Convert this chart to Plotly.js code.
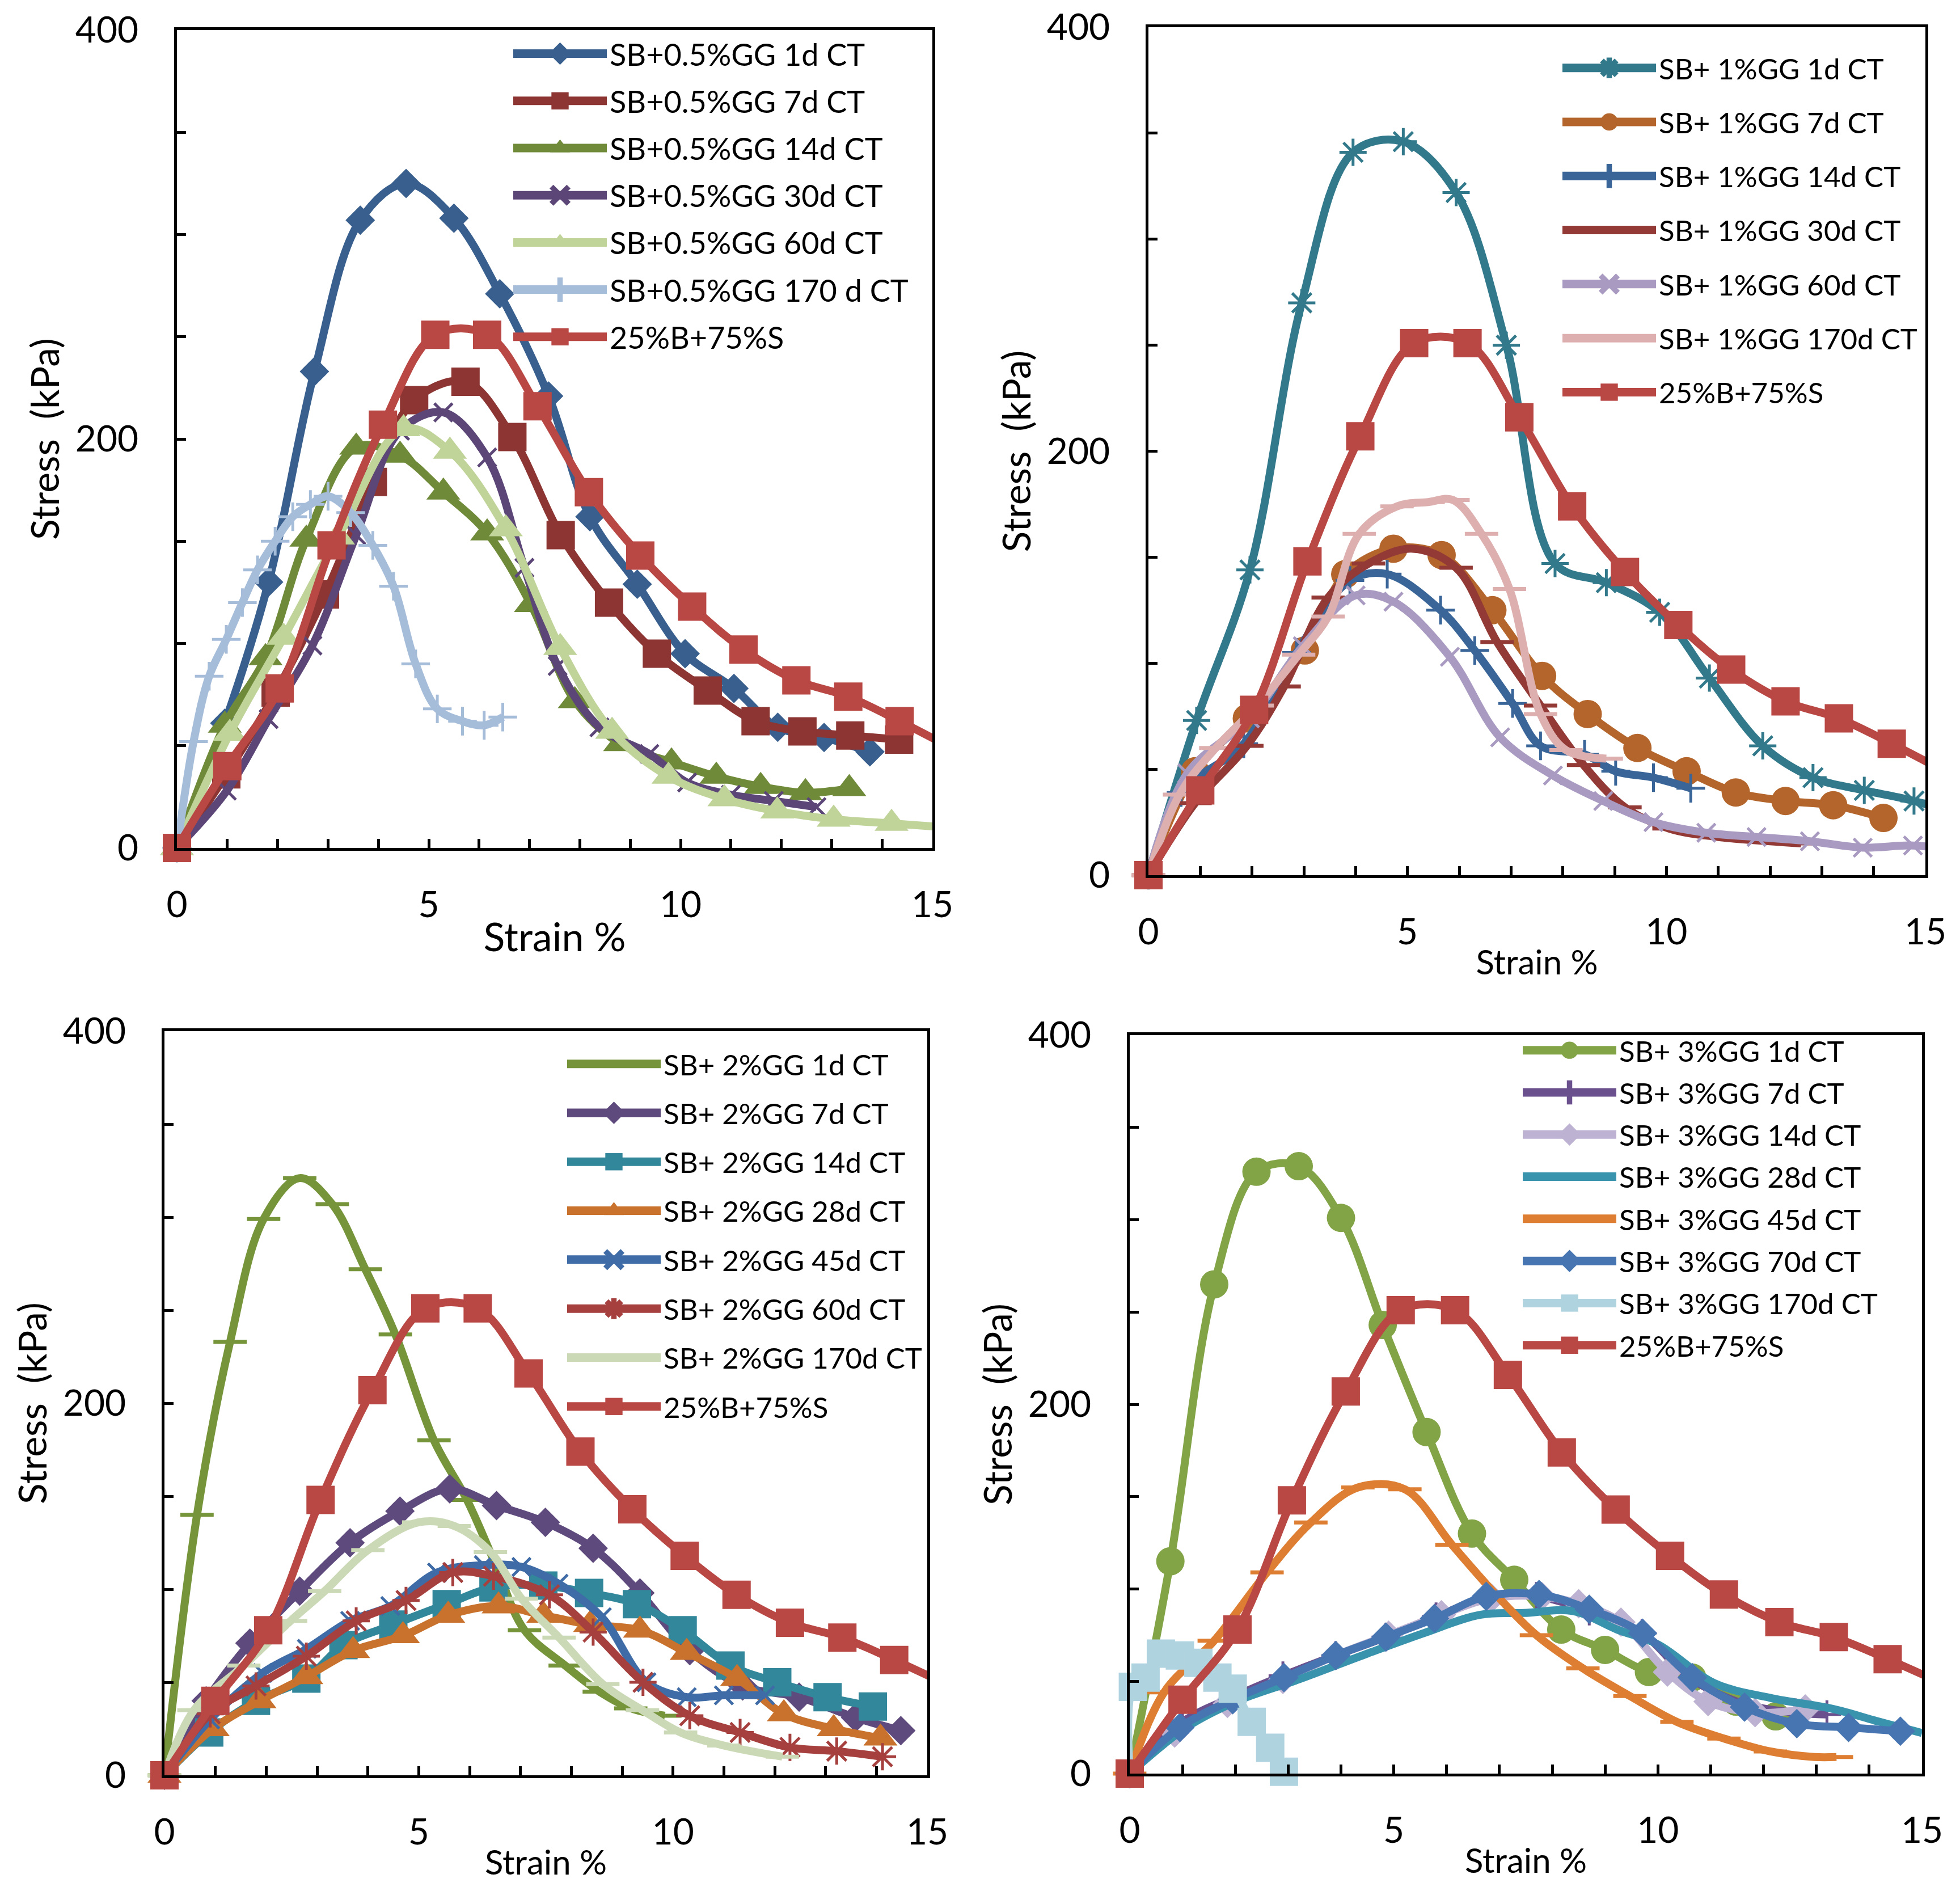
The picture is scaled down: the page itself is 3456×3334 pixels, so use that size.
<!DOCTYPE html>
<html>
<head>
<meta charset="utf-8">
<script src="https://cdn.plot.ly/plotly-3.0.1.min.js"></script>
<style>html,body{margin:0;padding:0;background:#fff}#chart{width:3456px;height:3334px}</style>
</head>
<body>
<div id="chart"></div>
<script>
// ---------- tick labels ----------
const X_TICKS = [0,1,2,3,4,5,6,7,8,9,10,11,12,13,14,15];
const X_LABELS = ['0','','','','','5','','','','','10','','','','','15'];
const Y_TICKS = [0,50,100,150,200,250,300,350,400];
const Y_LABELS = ['0','','','','200','','','','400'];

// ---------- control mix (shown in all four panels) ----------
const CTRL_NAME = '25%B+75%S';
const CTRL_X = [0,1.0,2.04,3.07,4.09,5.13,6.16,7.16,8.18,9.2,10.23,11.25,12.3,13.33,14.35,15.37];
const CTRL_Y = [0,40,78,148,207,251,251,216,174,143,118,97,82,74,62,49];

// ---------- panel 1 : SB+0.5%GG ----------
const P1_NAMES = ['SB+0.5%GG 1d CT','SB+0.5%GG 7d CT','SB+0.5%GG 14d CT','SB+0.5%GG 30d CT','SB+0.5%GG 60d CT','SB+0.5%GG 170 d CT'];
const P1_1D_X = [0,0.95,1.82,2.73,3.64,4.55,5.5,6.41,7.38,8.2,9.14,10.09,11.06,11.93,12.85,13.76];
const P1_1D_Y = [0,61,130,233,307,325,308,271,221,162,129,95,78,59,54,47];
const P1_7D_X = [0,0.98,1.96,2.94,3.89,4.71,5.73,6.66,7.62,8.58,9.53,10.54,11.49,12.42,13.37,14.34];
const P1_7D_Y = [0,36,76,124,179,219,228,201,153,120,95,77,62,57,55,53];
const P1_14D_X = [0,0.95,1.76,2.57,3.56,4.43,5.29,6.16,7.03,7.9,8.8,9.82,10.71,11.59,12.48,13.35];
const P1_14D_Y = [0,60,93,151,196,192,174,154,119,72,51,42,35,30,27,29];
const P1_30D_X = [0,0.99,1.82,2.69,3.56,4.43,5.29,6.16,6.9,7.56,8.39,9.38,10.13,11.0,11.85,12.7];
const P1_30D_Y = [0,28,63,99,153,204,213,191,137,89,59,46,32,26,23,20];
const P1_60D_X = [0,1.05,2.12,3.2,4.5,5.42,6.53,7.61,8.64,9.76,10.87,11.92,13.04,14.19,15.3];
const P1_60D_Y = [0,56,103,152,205,194,156,98,57,35,24,18,14,12,10];
const P1_170D_X = [0,0.33,0.64,0.98,1.3,1.6,1.95,2.3,2.65,3.0,3.45,3.89,4.3,4.74,5.17,5.67,6.1,6.47];
const P1_170D_Y = [0,52,84,102,120,136,150,162,168,172,164,148,128,90,68,62,60,64];

// ---------- panel 2 : SB+ 1%GG ----------
const P2_NAMES = ['SB+ 1%GG 1d CT','SB+ 1%GG 7d CT','SB+ 1%GG 14d CT','SB+ 1%GG 30d CT','SB+ 1%GG 60d CT','SB+ 1%GG 170d CT'];
const P2_1D_X = [0,0.93,1.96,2.96,3.95,4.92,5.94,6.91,7.85,8.84,9.87,10.83,11.86,12.83,13.82,14.78,15.75];
const P2_1D_Y = [0,73,144,270,341,346,322,250,147,138,124,93,61,46,40,35,28];
const P2_7D_X = [0,0.9,1.9,3.02,3.8,4.73,5.66,6.64,7.6,8.48,9.44,10.39,11.34,12.3,13.22,14.19];
const P2_7D_Y = [0,49,74,106,142,154,151,125,94,76,60,49,39,35,33,27];
const P2_14D_X = [0,0.63,1.84,2.86,3.89,4.61,5.64,6.3,7.03,7.57,8.42,9.02,9.75,10.47];
const P2_14D_Y = [0,39,62,105,139,142,125,106,81,61,57,49,46,41];
const P2_30D_X = [0,0.9,1.9,2.62,3.47,4.25,5.1,5.94,6.73,7.57,8.4,9.2,10.05,11.0,12.0,12.6];
const P2_30D_Y = [0,34,61,89,131,147,154,145,110,80,52,32,22,18,16,15];
const P2_60D_X = [0,0.75,1.96,2.98,4.0,4.73,5.82,6.79,7.81,8.78,9.75,10.77,11.74,12.77,13.79,14.76,15.5];
const P2_60D_Y = [0,48,74,108,132,129,103,65,47,35,25,20,18,16,13,14,12];
const P2_170D_X = [0,0.6,1.3,2.1,2.9,3.47,4.07,4.8,5.4,5.88,6.43,6.97,7.57,8.06,8.84];
const P2_170D_Y = [0,38,60,80,104,122,161,174,176,177,161,135,76,59,55];

// ---------- panel 3 : SB+ 2%GG ----------
const P3_NAMES = ['SB+ 2%GG 1d CT','SB+ 2%GG 7d CT','SB+ 2%GG 14d CT','SB+ 2%GG 28d CT','SB+ 2%GG 45d CT','SB+ 2%GG 60d CT','SB+ 2%GG 170d CT'];
const P3_1D_X = [0,0.64,1.29,1.95,2.66,3.3,3.95,4.54,5.3,5.95,6.5,7.08,7.88,8.55,9.17,9.84];
const P3_1D_Y = [0,140,233,299,321,307,272,237,180,148,114,78,59,45,36,32];
const P3_7D_X = [0,0.82,1.68,2.66,3.65,4.63,5.61,6.53,7.49,8.43,9.35,10.33,11.37,12.48,13.59,14.48];
const P3_7D_Y = [0,40,71,99,125,142,154,145,136,122,98,67,48,42,31,24];
const P3_14D_X = [0,0.88,1.8,2.79,3.52,4.5,5.55,6.47,7.45,8.35,9.29,10.19,11.13,12.05,13.04,13.93];
const P3_14D_Y = [0,23,40,52,70,81,92,101,102,98,92,78,59,50,42,37];
const P3_28D_X = [0,0.95,1.87,2.79,3.71,4.69,5.58,6.57,7.45,8.37,9.35,10.27,11.26,12.18,13.16,14.08];
const P3_28D_Y = [0,25,40,53,67,75,86,91,86,81,78,66,52,33,25,20];
const P3_45D_X = [0,0.9,1.93,2.8,3.65,4.44,5.36,6.28,7.02,7.75,8.6,9.48,10.27,11.0,11.81];
const P3_45D_Y = [0,30,55,68,83,91,109,113,112,103,85,50,42,43,43];
const P3_60D_X = [0,0.9,1.8,2.79,3.77,4.75,5.67,6.47,7.57,8.43,9.41,10.33,11.32,12.3,13.22,14.12];
const P3_60D_Y = [0,33,48,64,83,94,109,107,97,77,50,32,23,15,13,10];
const P3_170D_X = [0,0.58,1.56,2.48,3.15,4.0,5.0,5.7,6.41,7.02,7.76,8.62,9.4,10.15,11.0,12.15];
const P3_170D_Y = [0,35,59,83,99,121,136,134,120,95,74,49,35,23,16,10];

// ---------- panel 4 : SB+ 3%GG ----------
const P4_NAMES = ['SB+ 3%GG 1d CT','SB+ 3%GG 7d CT','SB+ 3%GG 14d CT','SB+ 3%GG 28d CT','SB+ 3%GG 45d CT','SB+ 3%GG 70d CT','SB+ 3%GG 170d CT'];
const P4_1D_X = [0,0.77,1.6,2.4,3.2,4.0,4.79,5.62,6.48,7.28,8.17,9.0,9.83,10.65,11.48,12.23];
const P4_1D_Y = [0,115,265,326,329,301,243,185,130,105,78,67,55,52,39,31];
const P4_7D_X = [0,1.0,2.0,2.9,3.9,4.85,5.8,6.75,7.7,8.7,9.7,10.6,11.6,12.6,13.2];
const P4_7D_Y = [0,28,42,53,64,74,85,95,96,88,76,52,38,33,32];
const P4_14D_X = [0,0.85,1.85,2.9,3.9,4.9,5.9,6.85,7.8,8.5,9.3,10.18,10.95,11.84,12.79];
const P4_14D_Y = [0,22,38,51,64,75,86,95,96,92,82,55,39,33,35];
const P4_28D_X = [0,1.07,2.01,3.2,4.5,5.56,6.63,7.46,8.4,9.23,10.0,11.07,12.13,13.32,14.2,15.0];
const P4_28D_Y = [0,25,39,51,65,76,86,87,88,78,70,49,41,35,28,22];
const P4_45D_X = [0,0.65,1.6,2.6,3.43,4.32,5.21,6.1,6.9,7.7,8.58,9.47,10.36,11.25,12.13,12.96,13.38];
const P4_45D_Y = [0,44,72,109,136,155,154,124,98,75,57,42,28,19,12,9,9];
const P4_70D_X = [0,0.95,1.95,2.92,3.9,4.85,5.77,6.75,7.75,8.7,9.71,10.65,11.64,12.63,13.61,14.59];
const P4_70D_Y = [0,25,40,52,64,74,84,96,97,89,76,52,36,27,25,23];
const P4_170D_X = [0,0.06,0.3,0.59,0.95,1.3,1.66,1.95,2.31,2.66,2.92];
const P4_170D_Y = [0,47,52,65,64,60,52,46,28,14,1];

// ---------- styling ----------
const FONT = 'Lato, "Open Sans", sans-serif';
const RED = '#B94744';
const LW = 14;

function mk(sym, color) {
  switch (sym) {
    case 'diamond': return {symbol:'diamond', size:40, color:color};
    case 'square': return {symbol:'square', size:50, color:color};
    case 'triangle': return {symbol:'triangle-up', size:52, color:color};
    case 'circle': return {symbol:'circle', size:50, color:color};
    case 'x': return {symbol:'x-thin', size:32, color:color, line:{width:5, color:color}};
    case 'asterisk': return {symbol:'asterisk', size:40, color:color, line:{width:5, color:color}};
    case 'cross': return {symbol:'cross-thin', size:36, color:color, line:{width:5, color:color}};
    case 'dash': return {symbol:'line-ew', size:42, color:color, line:{width:7, color:color}};
  }
  return null;
}

function tr(name, x, y, color, sym, n) {
  const sfx = n === 1 ? '' : String(n);
  const t = {
    type:'scatter', name:name, x:x, y:y,
    xaxis:'x' + sfx, yaxis:'y' + sfx, legend:'legend' + sfx,
    mode: sym ? 'lines+markers' : 'lines',
    line:{color:color, width:LW, shape:'spline', smoothing:1},
    cliponaxis:false, legendgroup:'g' + n + name, hoverinfo:'x+y+name'
  };
  if (sym) t.marker = mk(sym, color);
  return t;
}

const data = [
  tr(P1_NAMES[0], P1_1D_X, P1_1D_Y, '#385F8E', 'diamond', 1),
  tr(P1_NAMES[1], P1_7D_X, P1_7D_Y, '#8C3533', 'square', 1),
  tr(P1_NAMES[2], P1_14D_X, P1_14D_Y, '#6F8A39', 'triangle', 1),
  tr(P1_NAMES[3], P1_30D_X, P1_30D_Y, '#5B4677', 'x', 1),
  tr(P1_NAMES[4], P1_60D_X, P1_60D_Y, '#C0D49A', 'triangle', 1),
  tr(P1_NAMES[5], P1_170D_X, P1_170D_Y, '#A6BDDA', 'cross', 1),
  tr(CTRL_NAME, CTRL_X, CTRL_Y, RED, 'square', 1),

  tr(P2_NAMES[0], P2_1D_X, P2_1D_Y, '#31798B', 'asterisk', 2),
  tr(P2_NAMES[1], P2_7D_X, P2_7D_Y, '#B3652B', 'circle', 2),
  tr(P2_NAMES[2], P2_14D_X, P2_14D_Y, '#3A6598', 'cross', 2),
  tr(P2_NAMES[3], P2_30D_X, P2_30D_Y, '#933A36', 'dash', 2),
  tr(P2_NAMES[4], P2_60D_X, P2_60D_Y, '#A99AC1', 'x', 2),
  tr(P2_NAMES[5], P2_170D_X, P2_170D_Y, '#DDB0AF', 'dash', 2),
  tr(CTRL_NAME, CTRL_X, CTRL_Y, RED, 'square', 2),

  tr(P3_NAMES[0], P3_1D_X, P3_1D_Y, '#76953A', 'dash', 3),
  tr(P3_NAMES[1], P3_7D_X, P3_7D_Y, '#5F4A7E', 'diamond', 3),
  tr(P3_NAMES[2], P3_14D_X, P3_14D_Y, '#32879A', 'square', 3),
  tr(P3_NAMES[3], P3_28D_X, P3_28D_Y, '#C8722D', 'triangle', 3),
  tr(P3_NAMES[4], P3_45D_X, P3_45D_Y, '#3F6CA6', 'x', 3),
  tr(P3_NAMES[5], P3_60D_X, P3_60D_Y, '#A6403F', 'asterisk', 3),
  tr(P3_NAMES[6], P3_170D_X, P3_170D_Y, '#CBD9B6', 'dash', 3),
  tr(CTRL_NAME, CTRL_X, CTRL_Y, RED, 'square', 3),

  tr(P4_NAMES[0], P4_1D_X, P4_1D_Y, '#82A447', 'circle', 4),
  tr(P4_NAMES[1], P4_7D_X, P4_7D_Y, '#6B508E', 'cross', 4),
  tr(P4_NAMES[2], P4_14D_X, P4_14D_Y, '#BDB2D2', 'diamond', 4),
  tr(P4_NAMES[3], P4_28D_X, P4_28D_Y, '#3A93AD', null, 4),
  tr(P4_NAMES[4], P4_45D_X, P4_45D_Y, '#DE7E32', 'dash', 4),
  tr(P4_NAMES[5], P4_70D_X, P4_70D_Y, '#4675B2', 'diamond', 4),
  tr(P4_NAMES[6], P4_170D_X, P4_170D_Y, '#B0D4DF', 'square', 4),
  tr(CTRL_NAME, CTRL_X, CTRL_Y, RED, 'square', 4)
];

const W = 3456, H = 3334;
function px(v) { return v / W; }
function py(v) { return 1 - v / H; }

function xax(l, r, anchor, tsize) {
  return {
    domain:[px(l), px(r)], anchor:anchor, range:[0,15], fixedrange:true,
    tickmode:'array', tickvals:X_TICKS, ticktext:X_LABELS,
    ticks:'inside', ticklen:16, tickwidth:5, tickcolor:'#000',
    showline:true, linewidth:5, linecolor:'#000', mirror:true,
    showgrid:false, zeroline:false, ticklabelstandoff:40,
    tickfont:{family:FONT, size:64, color:'#000'},
    title:{text:'Strain %', font:{family:FONT, size:tsize, color:'#000'}, standoff:0}
  };
}
function yax(t, b, anchor) {
  return {
    domain:[py(b), py(t)], anchor:anchor, range:[0,400], fixedrange:true,
    tickmode:'array', tickvals:Y_TICKS, ticktext:Y_LABELS,
    ticks:'inside', ticklen:16, tickwidth:5, tickcolor:'#000',
    showline:true, linewidth:5, linecolor:'#000', mirror:true,
    showgrid:false, zeroline:false, ticklabelstandoff:50,
    tickfont:{family:FONT, size:64, color:'#000'},
    title:{text:'Stress  (kPa)', font:{family:FONT, size:68, color:'#000'}, standoff:8}
  };
}
function leg(x, y, fsize, gap) {
  return {
    x:px(x), y:py(y), xanchor:'left', yanchor:'top',
    bgcolor:'rgba(0,0,0,0)', borderwidth:0,
    font:{family:FONT, size:fsize, color:'#000'},
    itemwidth:165, traceorder:'grouped', tracegroupgap:gap,
    itemclick:false, itemdoubleclick:false
  };
}

const layout = {
  width:W, height:H, margin:{l:0, r:0, t:0, b:0},
  paper_bgcolor:'#fff', plot_bgcolor:'#fff',
  font:{family:FONT, color:'#000'},
  showlegend:true,
  xaxis: xax(312, 1644, 'y', 70),   yaxis: yax(53, 1495, 'x'),
  xaxis2: xax(2025, 3395, 'y2', 60), yaxis2: yax(48, 1543, 'x2'),
  xaxis3: xax(290, 1635, 'y3', 60), yaxis3: yax(1818, 3130, 'x3'),
  xaxis4: xax(1992, 3389, 'y4', 60), yaxis4: yax(1825, 3127, 'x4'),
  legend: leg(900, 53, 54, 10),
  legend2: leg(2750, 80, 51, 26),
  legend3: leg(995, 1836, 51, 17),
  legend4: leg(2680, 1812, 51, 5)
};

Plotly.newPlot('chart', data, layout, {staticPlot:true, displayModeBar:false}).then(function (gd) {
  // thicker legend sample lines and larger legend symbols, as in the reference (all four legends)
  gd.querySelectorAll('.legendlines path').forEach(function (p) {
    p.style.strokeWidth = '15px';
  });
  gd.querySelectorAll('.legendpoints path').forEach(function (p) {
    const t = p.getAttribute('transform') || '';
    p.setAttribute('transform', t + ' scale(1.9)');
  });
});
</script>
</body>
</html>
